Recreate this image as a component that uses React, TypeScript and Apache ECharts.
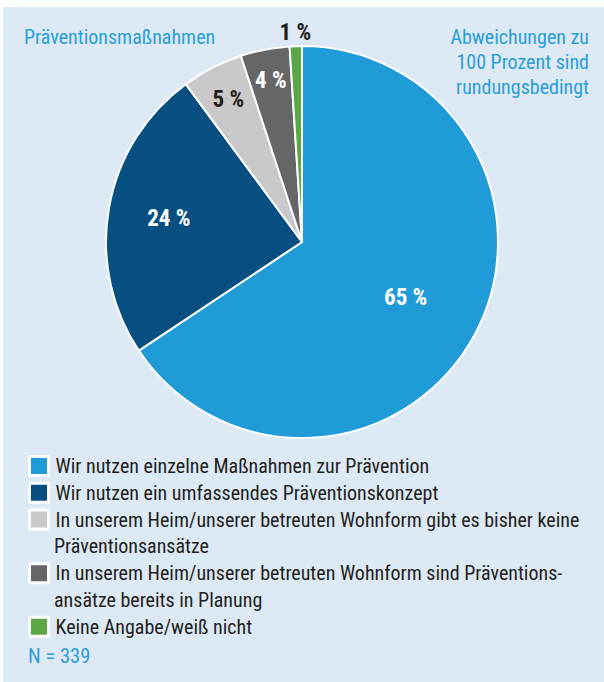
import React, { useEffect, useRef } from "react";
import * as echarts from "echarts";

const categories = [
  "Wir nutzen einzelne Maßnahmen zur Prävention",
  "Wir nutzen ein umfassendes Präventionskonzept",
  "In unserem Heim/unserer betreuten Wohnform gibt es bisher keine\nPräventionsansätze",
  "In unserem Heim/unserer betreuten Wohnform sind Präventions-\nansätze bereits in Planung",
  "Keine Angabe/weiß nicht",
];
const values = [65, 24, 5, 4, 1];
const colors = ["#1f9bd7", "#064f80", "#c9c9c9", "#666668", "#5ba745"];
const labelColors = ["#ffffff", "#ffffff", "#231f20", "#ffffff", "#231f20"];
const labelFrac = [0.6, 0.69, 0.82, 0.84, 1.07];
const titleText = "Präventionsmaßnahmen";
const noteText = "Abweichungen zu\n100 Prozent sind\nrundungsbedingt";
const sampleText = "N = 339";

const FONT =
  "'Roboto Condensed', 'Noto Sans Condensed', 'Open Sans Condensed', 'Liberation Sans Narrow', 'DejaVu Sans Condensed', sans-serif";
const BLUE_TEXT = "#2a9fd9";
const DARK_TEXT = "#231f20";

export default function App() {
  const ref = useRef<HTMLDivElement>(null);
  useEffect(() => {
    document.body.style.margin = "0";
    const chart = echarts.init(ref.current!, null, { renderer: "svg" });
    const cx = 302, cy = 242, R = 196;
    const total = values.reduce((a, b) => a + b, 0);
    const mids: number[] = [];
    let cum = 0;
    values.forEach((v) => {
      mids.push(((cum + v / 2) / total) * Math.PI * 2);
      cum += v;
    });

    // legend layout: each multi-line item ends a legend group; continuation lines drawn as text
    const legendLeft = 28, iconSize = 19, textPadLeft = 2;
    const firstRowCenter = 466, rowPitch = 26.8;
    const legends: any[] = [];
    const contTexts: any[] = [];
    let row = 0;
    let group: string[] = [];
    let groupStartRow = 0;
    const flush = () => {
      if (!group.length) return;
      legends.push({
        orient: "vertical",
        left: legendLeft,
        top: firstRowCenter + groupStartRow * rowPitch - rowPitch / 2,
        padding: 0,
        itemWidth: iconSize, itemHeight: iconSize, itemGap: 0,
        icon: "rect",
        itemStyle: { borderColor: "#ffffff", borderWidth: 3 },
        formatter: (name: string) => name.split("\n")[0],
        textStyle: { fontSize: 20, lineHeight: rowPitch, color: DARK_TEXT, fontFamily: FONT, padding: [0, 0, 0, textPadLeft] },
        data: group.slice(),
      });
      group = [];
    };
    categories.forEach((name) => {
      if (!group.length) groupStartRow = row;
      group.push(name);
      const lines = name.split("\n");
      row += 1;
      lines.slice(1).forEach((ln) => {
        contTexts.push({
          type: "text",
          x: legendLeft + iconSize + 5 + textPadLeft,
          y: firstRowCenter + row * rowPitch,
          style: { text: ln, fill: DARK_TEXT, font: `20px ${FONT}`, verticalAlign: "middle", align: "left" },
        });
        row += 1;
      });
      if (lines.length > 1) flush();
    });
    flush();

    chart.setOption({
      animation: false,
      backgroundColor: "#ffffff",
      textStyle: { fontFamily: FONT },
      graphic: [
        { type: "rect", shape: { x: 3, y: 7, width: 601, height: 675 }, style: { fill: "#dde9f5" }, z: -10, silent: true },
        {
          type: "text", x: 24, y: 37,
          style: { text: titleText, fill: BLUE_TEXT, font: `20px ${FONT}`, verticalAlign: "middle", align: "left" },
        },
        {
          type: "text", x: 589, y: 62,
          style: { text: noteText, fill: BLUE_TEXT, font: `20px ${FONT}`, lineHeight: 25, verticalAlign: "middle", align: "right" },
        },
        {
          type: "text", x: 28, y: 656,
          style: { text: sampleText, fill: BLUE_TEXT, font: `20.5px ${FONT}`, verticalAlign: "middle", align: "left" },
        },
        ...contTexts,
      ],
      legend: legends,
      series: [
        {
          type: "pie",
          center: [cx, cy],
          radius: [0, R],
          startAngle: 90,
          clockwise: true,
          itemStyle: { borderColor: "#ffffff", borderWidth: 2 },
          label: {
            show: true,
            position: "inside",
            formatter: (p: any) => `${p.value} %`,
            fontSize: 23,
            fontWeight: "bold",
            fontFamily: FONT,
          },
          labelLine: { show: false },
          labelLayout: (p: any) => {
            const i = p.dataIndex;
            const f = labelFrac[i];
            return {
              x: cx + f * R * Math.sin(mids[i]),
              y: cy - f * R * Math.cos(mids[i]),
              align: "center",
              verticalAlign: "middle",
            };
          },
          data: categories.map((name, i) => ({
            name,
            value: values[i],
            itemStyle: { color: colors[i] },
            label: { color: labelColors[i] },
          })),
        },
      ],
    });
    return () => chart.dispose();
  }, []);
  return <div ref={ref} style={{ width: 604, height: 682 }} />;
}
